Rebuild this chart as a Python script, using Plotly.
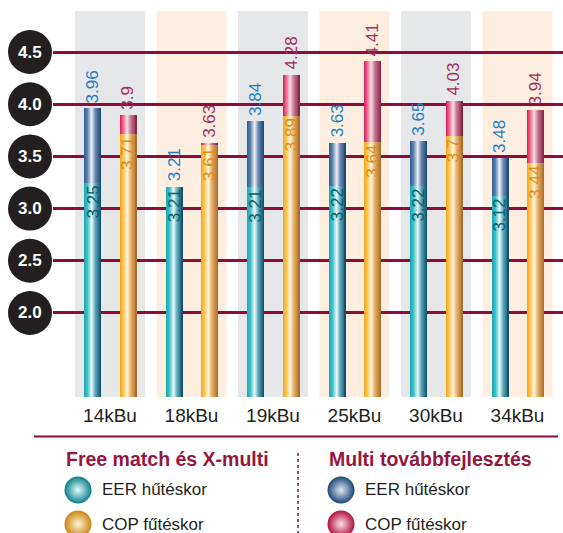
import plotly.graph_objects as go

# ---- data -------------------------------------------------------------
categories = ["14kBu", "18kBu", "19kBu", "25kBu", "30kBu", "34kBu"]
eer_free = [3.25, 3.21, 3.21, 3.22, 3.22, 3.12]     # Free match és X-multi, EER
eer_multi = [3.96, 3.21, 3.84, 3.63, 3.65, 3.48]    # Multi továbbfejlesztés, EER
cop_free = [3.71, 3.61, 3.89, 3.64, 3.70, 3.44]     # Free match és X-multi, COP
cop_multi = [3.90, 3.63, 4.28, 4.41, 4.03, 3.94]    # Multi továbbfejlesztés, COP
y_ticks = [2.0, 2.5, 3.0, 3.5, 4.0, 4.5]

# ---- geometry / style -------------------------------------------------
FIG_W, FIG_H = 563, 533
PLOT_L, PLOT_T, PLOT_B = 53, 11, 397
PX_PER_CAT = 81.5
FIRST_CENTER = 110
Y_RANGE = [1.195, 4.893]
X_RANGE = [-(FIRST_CENTER - PLOT_L) / PX_PER_CAT,
           len(categories) - 1 + (FIG_W - (FIRST_CENTER + PX_PER_CAT * (len(categories) - 1))) / PX_PER_CAT]

BAR_W = 17 / PX_PER_CAT
EER_C = -17.5 / PX_PER_CAT
COP_C = 18.0 / PX_PER_CAT
BAND_HALF = 35 / PX_PER_CAT
N_SLICES = 17

MAROON = "#8e0b3c"
FONT = "Liberation Sans, Arial, sans-serif"

TEAL = [(0, "#16a7b3"), (0.2, "#3cc0c8"), (0.45, "#eef9fa"), (0.66, "#5aaabb"), (1, "#0b4a68")]
BLUE = [(0, "#2d5d92"), (0.2, "#5b82ad"), (0.45, "#eef1f6"), (0.66, "#6a89b0"), (1, "#17466f")]
ORANGE = [(0, "#f6a414"), (0.2, "#fbc657"), (0.42, "#fff6de"), (0.64, "#e6ae64"), (1, "#a86a27")]
CRIMSON = [(0, "#e0145a"), (0.2, "#ea6f93"), (0.42, "#f8dde5"), (0.64, "#c47591"), (1, "#84203f")]


def hex_rgb(h):
    h = h.lstrip("#")
    return tuple(int(h[k:k + 2], 16) for k in (0, 2, 4))


def sample(stops, t):
    for (p0, c0), (p1, c1) in zip(stops, stops[1:]):
        if p0 <= t <= p1:
            f = (t - p0) / (p1 - p0)
            a, b = hex_rgb(c0), hex_rgb(c1)
            return "rgb(%d,%d,%d)" % tuple(round(a[k] + (b[k] - a[k]) * f) for k in range(3))
    return stops[-1][1]


xs = list(range(len(categories)))
fig = go.Figure()


def cylinder(values, bases, center, stops):
    """Stacked bar segment shaded as a cylinder: overlapping slices from left to right."""
    heights = [v - b for v, b in zip(values, bases)]
    left = center - BAR_W / 2
    for j in range(N_SLICES):
        fig.add_trace(go.Bar(
            x=xs, y=heights, base=bases,
            offset=left + j * BAR_W / N_SLICES,
            width=BAR_W * (N_SLICES - j) / N_SLICES,
            marker=dict(color=sample(stops, (j + 0.5) / N_SLICES), line=dict(width=0)),
            hoverinfo="skip", showlegend=False,
        ))


cylinder(eer_free, [0] * len(xs), EER_C, TEAL)
cylinder(eer_multi, eer_free, EER_C, BLUE)
cylinder(cop_free, [0] * len(xs), COP_C, ORANGE)
cylinder(cop_multi, cop_free, COP_C, CRIMSON)

# ---- legend swatches (separate full-figure axes) ---------------------
legend_items = [
    ("EER hűtéskor", 78, 490, "#0a7f8a", "#e4fbfc", 100),
    ("COP fűtéskor", 78, 524, "#cf8510", "#fff4d8", 100),
    ("EER hűtéskor", 341, 490, "#1b4778", "#e2e9f4", 363),
    ("COP fűtéskor", 341, 524, "#b0103f", "#fde0e8", 363),
]
for label, cx, cy, edge, centre, tx in legend_items:
    fig.add_trace(go.Scatter(
        x=[cx], y=[cy], mode="markers", xaxis="x2", yaxis="y2",
        marker=dict(size=27, color=edge, gradient=dict(type="radial", color=centre), line=dict(width=0)),
        hoverinfo="skip", showlegend=False, cliponaxis=False,
    ))

shapes = []
# alternating category bands
band_colors = ["#e6e7e9", "#fdeee0"]
for i in xs:
    shapes.append(dict(type="rect", xref="x", yref="paper", layer="below",
                       x0=i - BAND_HALF, x1=i + BAND_HALF,
                       y0=(FIG_H - PLOT_B) / FIG_H, y1=(FIG_H - PLOT_T) / FIG_H,
                       fillcolor=band_colors[i % 2], line=dict(width=0)))
# black tick discs
for v in y_ticks:
    shapes.append(dict(type="circle", xref="paper", yref="y", xsizemode="pixel", ysizemode="pixel",
                       xanchor=30 / FIG_W, x0=-22, x1=22, yanchor=v, y0=-22, y1=22,
                       fillcolor="#231f20", line=dict(width=0), layer="above"))
# separator rules
shapes.append(dict(type="line", xref="paper", yref="paper",
                   x0=34 / FIG_W, x1=558 / FIG_W,
                   y0=(FIG_H - 436.5) / FIG_H, y1=(FIG_H - 436.5) / FIG_H,
                   line=dict(color=MAROON, width=2)))
shapes.append(dict(type="line", xref="paper", yref="paper",
                   x0=298 / FIG_W, x1=298 / FIG_W,
                   y0=(FIG_H - 453) / FIG_H, y1=0,
                   line=dict(color=MAROON, width=1.5, dash="dot")))

annotations = []
for v in y_ticks:
    annotations.append(dict(xref="paper", yref="y", x=30 / FIG_W, y=v, text="%.1f" % v,
                            showarrow=False, xanchor="center", yanchor="middle",
                            font=dict(family=FONT, size=17, color="white", weight="bold")))


def value_labels(lower, upper, center, low_color, up_color):
    for i in xs:
        annotations.append(dict(xref="x", yref="y", x=i + center, y=upper[i],
                                text="%g" % upper[i], textangle=-90, showarrow=False,
                                xanchor="center", yanchor="bottom", yshift=3,
                                font=dict(family=FONT, size=17, color=up_color)))
        annotations.append(dict(xref="x", yref="y", x=i + center, y=lower[i],
                                text="%g" % lower[i], textangle=-90, showarrow=False,
                                xanchor="center", yanchor="top", yshift=-1,
                                font=dict(family=FONT, size=17, color=low_color)))


value_labels(eer_free, eer_multi, EER_C, "#0c5c6a", "#1c7fc6")
value_labels(cop_free, cop_multi, COP_C, "#dc8c1c", "#a02e58")

# legend headings and item texts
annotations.append(dict(xref="paper", yref="paper", x=64 / FIG_W, y=(FIG_H - 459) / FIG_H,
                        text="Free match és X-multi", showarrow=False, xanchor="left", yanchor="middle",
                        font=dict(family=FONT, size=19.5, color="#961640", weight="bold")))
annotations.append(dict(xref="paper", yref="paper", x=327 / FIG_W, y=(FIG_H - 459) / FIG_H,
                        text="Multi továbbfejlesztés", showarrow=False, xanchor="left", yanchor="middle",
                        font=dict(family=FONT, size=19.5, color="#961640", weight="bold")))
for label, cx, cy, edge, centre, tx in legend_items:
    annotations.append(dict(xref="paper", yref="paper", x=tx / FIG_W, y=(FIG_H - cy) / FIG_H,
                            text=label, showarrow=False, xanchor="left", yanchor="middle",
                            font=dict(family=FONT, size=17, color="#231f20")))

fig.update_layout(
    width=FIG_W, height=FIG_H,
    margin=dict(l=0, r=0, t=0, b=0),
    paper_bgcolor="white", plot_bgcolor="rgba(0,0,0,0)",
    barmode="overlay", bargap=0,
    showlegend=False,
    xaxis=dict(domain=[PLOT_L / FIG_W, 1], range=X_RANGE, tickvals=xs, ticktext=categories,
               showgrid=False, zeroline=False, showline=False, ticks="", ticklabelstandoff=5,
               tickfont=dict(family=FONT, size=19, color="#231f20"), fixedrange=True),
    yaxis=dict(domain=[(FIG_H - PLOT_B) / FIG_H, (FIG_H - PLOT_T) / FIG_H], range=Y_RANGE,
               tickvals=y_ticks, showticklabels=False, showgrid=True, gridcolor=MAROON,
               gridwidth=2.5, zeroline=False, showline=False, fixedrange=True),
    xaxis2=dict(domain=[0, 1], range=[0, FIG_W], visible=False, fixedrange=True),
    yaxis2=dict(domain=[0, 1], range=[FIG_H, 0], visible=False, fixedrange=True, anchor="x2"),
    shapes=shapes, annotations=annotations,
)
fig.update_xaxes(anchor="y2", selector=dict(domain=[0, 1]))

fig.write_html("out.html")
